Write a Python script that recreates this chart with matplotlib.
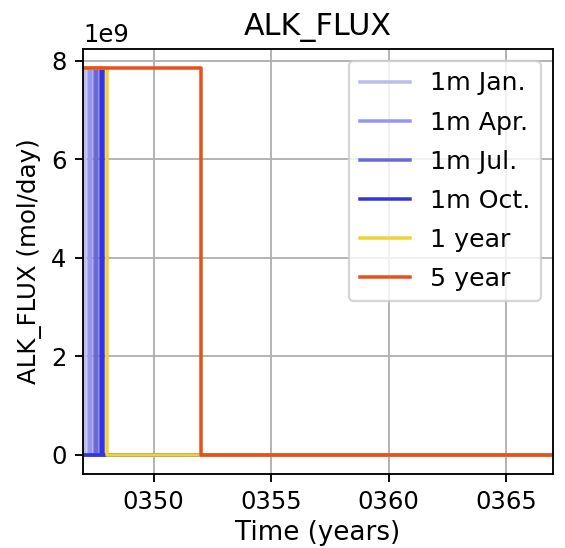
import numpy as np
import matplotlib
matplotlib.use("Agg")
import matplotlib.pyplot as plt
from matplotlib.ticker import FuncFormatter

# Data
labels = ["1m Jan.", "1m Apr.", "1m Jul.", "1m Oct.", "1 year", "5 year"]
colors = ["#bcbcec", "#9696f2", "#6a6ad2", "#3434e2", "#f0d232", "#e8501e"]
pulse_start = [347.0, 347.25, 347.5, 347.75, 347.0, 347.0]   # years
pulse_end = [347.0833, 347.3333, 347.5833, 347.8333, 348.0, 352.0]
flux_on = 7.85e9  # mol/day
t_start, t_end = 347.0, 367.0
n_months = 240
y_ticks = [0, 2e9, 4e9, 6e9, 8e9]

time = t_start + np.arange(n_months + 1) / 12.0

dpi = 168
fig = plt.figure(figsize=(565 / dpi, 548 / dpi), dpi=dpi)
ax = fig.add_axes([0.147, 0.135, 0.832, 0.776])

for lab, col, s, e in zip(labels, colors, pulse_start, pulse_end):
    vals = np.where((time >= s - 1e-6) & (time < e - 1e-6), flux_on, 0.0)
    ax.plot(time, vals, color=col, label=lab, lw=1.5, drawstyle="steps-post")

ax.set_xlim(t_start, t_end)
ax.set_xticks([350, 355, 360, 365])
ax.set_yticks(y_ticks)
ax.xaxis.set_major_formatter(FuncFormatter(lambda v, p: "%04d" % int(round(v))))
ax.tick_params(labelsize=10.4)
ax.yaxis.get_offset_text().set_fontsize(10.4)
ax.grid(True)
ax.set_title("ALK_FLUX", fontsize=12.9)
ax.set_xlabel("Time (years)", fontsize=11.2, labelpad=2.5)
ax.set_ylabel("ALK_FLUX (mol/day)", fontsize=10.5)
ax.legend(loc="upper right", fontsize=10.8, labelspacing=0.6)

fig.savefig("out.png", dpi=dpi)
